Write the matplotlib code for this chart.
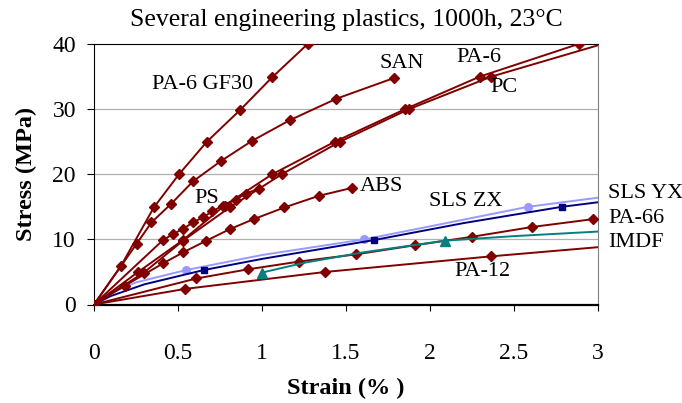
import matplotlib.pyplot as plt

plt.rcParams['font.family'] = ['Liberation Serif', 'DejaVu Serif']

# ── Données ──
gf30_x = [0, 0.16, 0.356, 0.506, 0.672, 0.871, 1.061, 1.272]
gf30_y = [0, 5.9, 14.9, 20.0, 25.0, 29.9, 34.9, 40.0]

san_x = [0, 0.253, 0.342, 0.461, 0.589, 0.754, 0.939, 1.165, 1.443, 1.788]
san_y = [0, 9.3, 12.6, 15.5, 18.9, 22.0, 25.1, 28.3, 31.6, 34.8]

ps_x = [0, 0.411, 0.47, 0.53, 0.589, 0.649, 0.704, 0.767, 0.843, 0.902, 0.98]
ps_y = [0, 9.9, 10.8, 11.6, 12.6, 13.4, 14.3, 15.2, 16.1, 17.0, 17.8]

pa6_x = [0, 0.263, 0.53, 0.777, 1.061, 1.434, 1.852, 2.297, 2.884, 3.0]
pa6_y = [0, 5.0, 9.9, 15.2, 20.0, 25.0, 30.0, 35.0, 40.0, 40.6]

pc_x = [0, 0.297, 0.53, 0.807, 1.118, 1.464, 1.875, 2.366, 3.0]
pc_y = [0, 4.9, 9.8, 14.9, 20.0, 25.0, 30.0, 35.0, 39.8]

abs_x = [0, 0.184, 0.41, 0.53, 0.669, 0.811, 0.95, 1.133, 1.34, 1.535]
abs_y = [0, 2.9, 6.3, 8.0, 9.8, 11.6, 13.1, 14.9, 16.7, 17.9]

pa66_x = [0, 0.61, 0.916, 1.223, 1.559, 1.911, 2.251, 2.607, 2.969]
pa66_y = [0, 4.0, 5.4, 6.6, 7.7, 9.1, 10.4, 11.9, 13.1]

pa12_x = [0, 0.544, 1.377, 2.366, 3.0]
pa12_y = [0, 2.4, 5.0, 7.4, 8.8]

imdf_x = [1.0, 1.25, 1.6, 2.089, 2.5, 3.0]
imdf_y = [4.9, 6.4, 8.0, 9.8, 10.5, 11.2]

yx_x = [0, 0.1, 0.25, 0.55, 1.0, 1.608, 2.0, 2.582, 3.0]
yx_y = [0, 1.8, 3.4, 5.3, 7.6, 10.0, 12.0, 15.0, 16.4]

zx_x = [0, 0.1, 0.3, 0.655, 1.0, 1.668, 2.2, 2.785, 3.0]
zx_y = [0, 1.3, 3.1, 5.3, 7.0, 9.9, 12.5, 15.0, 15.7]

RED = "#800000"

fig = plt.figure(figsize=(6.82, 4.03), dpi=100)
ax = fig.add_axes([94/682, 1 - 304.5/403, (598 - 94)/682, (304.5 - 44)/403])

for y in [10, 20, 30]:
    ax.axhline(y, color="#b0b0b0", lw=0.9, zorder=0)

# ── Courbes rouges (losanges) ──
red_series = [
    (gf30_x, gf30_y, None),
    (san_x, san_y, None),
    (ps_x, ps_y, None),
    (pa6_x, pa6_y, list(range(len(pa6_x) - 1))),
    (pc_x, pc_y, list(range(len(pc_x) - 1))),
    (abs_x, abs_y, None),
    (pa66_x, pa66_y, None),
    (pa12_x, pa12_y, list(range(len(pa12_x) - 1))),
]
for xs, ys, mk in red_series:
    ax.plot(xs, ys, color=RED, lw=1.4, marker="D", ms=5, markevery=mk, zorder=3)

ax.plot(imdf_x, imdf_y, color="#008080", lw=1.4, marker="^", ms=7, markevery=[0, 3], zorder=3)
ax.plot(yx_x, yx_y, color="#9999FF", lw=1.4, marker="o", ms=5.5, markevery=[3, 5, 7], zorder=2)
ax.plot(zx_x, zx_y, color="#000080", lw=1.4, marker="s", ms=5, markevery=[0, 3, 5, 7], zorder=2)

# ── Étiquettes ──
fs = 16
ax.text(0.647, 33.8, "PA-6 GF30", fontsize=fs, ha="center", va="center")
ax.text(1.834, 37.0, "SAN", fontsize=fs, ha="center", va="center")
ax.text(2.291, 37.9, "PA-6", fontsize=fs, ha="center", va="center")
ax.text(2.44, 33.3, "PC", fontsize=fs, ha="center", va="center")
ax.text(0.669, 16.3, "PS", fontsize=fs, ha="center", va="center")
ax.text(1.58, 18.1, "ABS", fontsize=fs, ha="left", va="center")
ax.text(2.21, 15.8, "SLS ZX", fontsize=fs, ha="center", va="center")
ax.text(2.31, 5.0, "PA-12", fontsize=fs, ha="center", va="center")
ax.text(3.06, 17.1, "SLS YX", fontsize=fs, ha="left", va="center", clip_on=False)
ax.text(3.06, 13.2, "PA-66", fontsize=fs, ha="left", va="center", clip_on=False)
ax.text(3.06, 9.5, "IMDF", fontsize=fs, ha="left", va="center", clip_on=False)

ax.set_xlim(0, 3)
ax.set_ylim(0, 40)
ax.set_xticks([0, 0.5, 1, 1.5, 2, 2.5, 3])
ax.set_xticklabels(["0", "0.5", "1", "1.5", "2", "2.5", "3"])
ax.set_yticks([0, 10, 20, 30, 40])
ax.tick_params(axis="x", direction="out", length=4, pad=24, labelsize=17)
ax.tick_params(axis="y", direction="out", length=5, pad=8, labelsize=17)

ax.spines["left"].set_color("black")
ax.spines["bottom"].set_color("black")
ax.spines["bottom"].set_linewidth(1.6)
ax.spines["top"].set_color("black")
ax.spines["right"].set_color("#808080")

ax.set_title("Several engineering plastics, 1000h, 23°C", fontsize=18.5, pad=13)
ax.set_xlabel("Strain (% )", fontsize=17.5, fontweight="bold", labelpad=10)
ax.set_ylabel("Stress (MPa)", fontsize=17.5, fontweight="bold", labelpad=11)

fig.savefig("out.png", dpi=100)
